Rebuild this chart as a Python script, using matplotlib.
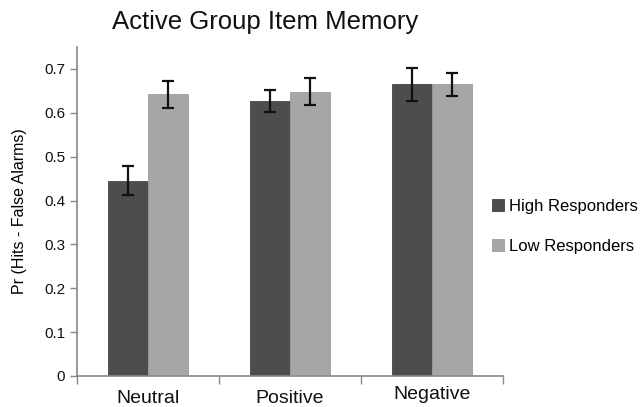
import numpy as np
import matplotlib.pyplot as plt

plt.rcParams['font.family'] = ['Liberation Sans', 'DejaVu Sans']

# data
categories = ['Neutral', 'Positive', 'Negative']
high = [0.445, 0.627, 0.665]
high_err = [0.033, 0.026, 0.038]
low = [0.642, 0.648, 0.665]
low_err = [0.030, 0.031, 0.026]
yticks = [0, 0.1, 0.2, 0.3, 0.4, 0.5, 0.6, 0.7]

fig = plt.figure(figsize=(6.43, 4.07), dpi=100)
ax = fig.add_axes([0.1198, 0.0762, 0.6622, 0.8083])

x = np.arange(len(categories))
w = 0.28
ax.bar(x - w/2, high, w, color='#4d4d4d', edgecolor='#444444', linewidth=0.6,
       label='High Responders')
ax.bar(x + w/2, low, w, color='#a6a6a6', edgecolor='#9d9d9d', linewidth=0.6,
       label='Low Responders')
ax.errorbar(x - w/2, high, yerr=high_err, fmt='none', ecolor='#111111',
            elinewidth=1.6, capsize=4, capthick=1.6)
ax.errorbar(x + w/2, low, yerr=low_err, fmt='none', ecolor='#111111',
            elinewidth=1.6, capsize=4, capthick=1.6)

ax.set_xlim(-0.5, 2.5)
ax.set_ylim(0, 0.75)
ax.set_yticks(yticks)
ax.set_yticklabels(['0'] + ['%.1f' % t for t in yticks[1:]], fontsize=11)

# category boundaries carry the x tick marks
ax.set_xticks([-0.5, 0.5, 1.5, 2.5])
ax.set_xticklabels([])
ax.tick_params(axis='x', direction='out', length=6, color='#888888', width=1)
ax.tick_params(axis='y', direction='out', length=5, color='#888888', width=1,
               labelcolor='#111111')
for i, c in enumerate(categories):
    dy = -0.057 if c == 'Negative' else -0.068
    ax.text(i, dy, c, ha='center', va='center', fontsize=14,
            transform=ax.get_xaxis_transform(), color='#111111')

for s in ['top', 'right']:
    ax.spines[s].set_visible(False)
for s in ['left', 'bottom']:
    ax.spines[s].set_color('#888888')
    ax.spines[s].set_linewidth(1.2)

ax.set_ylabel('Pr (Hits - False Alarms)', fontsize=11.5, labelpad=12)
fig.text(0.413, 0.945, 'Active Group Item Memory', ha='center', va='center',
         fontsize=18.5, color='#111111')

ax.legend(loc='center left', bbox_to_anchor=(0.94, 0.455), frameon=False,
          fontsize=12, handlelength=0.7, handleheight=0.7,
          handletextpad=0.3, labelspacing=1.5)

fig.savefig('out.png', dpi=100)
